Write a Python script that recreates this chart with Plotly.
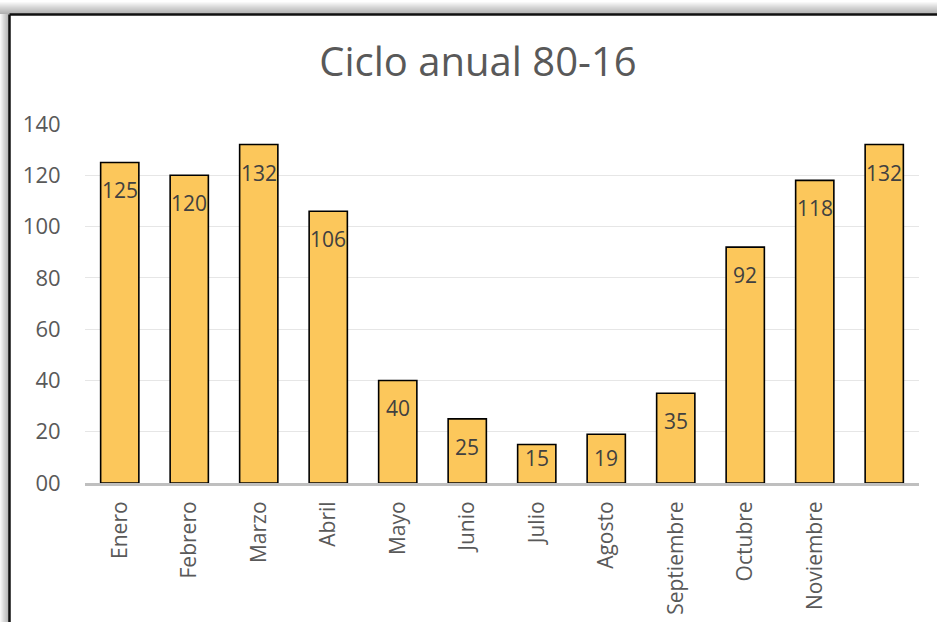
import plotly.graph_objects as go

# Monthly values of the annual cycle 1980-2016
months = ["Enero", "Febrero", "Marzo", "Abril", "Mayo", "Junio", "Julio",
          "Agosto", "Septiembre", "Octubre", "Noviembre", "Diciembre"]
month_ticks = ["Enero", "Febrero", "Marzo", "Abril", "Mayo", "Junio", "Julio",
               "Agosto", "Septiembre", "Octubre", "Noviembre", ""]
values = [125, 120, 132, 106, 40, 25, 15, 19, 35, 92, 118, 132]
y_ticks = [0, 20, 40, 60, 80, 100, 120, 140]
y_tick_text = ["00", "20", "40", "60", "80", "100", "120", "140"]

W, H = 937, 622
ML, MR, MT, MB = 85, 18, 124, 139
PW, PH = W - ML - MR, H - MT - MB
Y_MAX = 140
PX_PER_UNIT = PH / Y_MAX

FONT = "Open Sans"
TXT = "#404040"

fig = go.Figure()
fig.add_trace(go.Bar(
    x=months, y=values,
    marker=dict(color="#FCC75B", line=dict(color="#000000", width=1.6)),
    hoverinfo="x+y",
))

# value labels sit inside the top of each bar, kept clear of the baseline
annotations = []
for m, v in zip(months, values):
    y_lab = max(v - 28 / PX_PER_UNIT, 25 / PX_PER_UNIT)
    annotations.append(dict(
        x=m, y=y_lab, xref="x", yref="y", text=str(v), showarrow=False,
        yanchor="middle", xanchor="center",
        font=dict(family=FONT, size=21, color=TXT),
    ))


def px_x(px):
    return (px - ML) / PW


def px_y(py):
    return (H - MB - py) / PH


shapes = []
# soft shadow along the top and left edges of the chart frame
steps = 12
for i in range(steps):
    op = 0.028
    shapes.append(dict(type="rect", xref="paper", yref="paper", layer="below",
                       x0=px_x(0), x1=px_x(W),
                       y0=px_y(14), y1=px_y(14 - (i + 1)),
                       line=dict(width=0), fillcolor=f"rgba(0,0,0,{op})"))
    shapes.append(dict(type="rect", xref="paper", yref="paper", layer="below",
                       x0=px_x(9 - (i + 1) * 0.75), x1=px_x(9),
                       y0=px_y(H), y1=px_y(14),
                       line=dict(width=0), fillcolor=f"rgba(0,0,0,{op})"))
# frame border
shapes.append(dict(type="line", xref="paper", yref="paper",
                   x0=px_x(9.5), x1=px_x(W), y0=px_y(14.5), y1=px_y(14.5),
                   line=dict(color="#111111", width=2.5)))
shapes.append(dict(type="line", xref="paper", yref="paper",
                   x0=px_x(9.5), x1=px_x(9.5), y0=px_y(14.5), y1=px_y(H),
                   line=dict(color="#111111", width=2.5)))

fig.update_layout(
    width=W, height=H,
    margin=dict(l=ML, r=MR, t=MT, b=MB, pad=0, autoexpand=False),
    paper_bgcolor="#FFFFFF", plot_bgcolor="#FFFFFF",
    bargap=0.45,
    showlegend=False,
    title=dict(text="Ciclo anual 80-16", x=478 / W, xanchor="center",
               y=1 - 62 / H, yanchor="middle", yref="container",
               font=dict(family=FONT, size=40, color="#595959")),
    font=dict(family=FONT, color=TXT),
    xaxis=dict(
        tickvals=months, ticktext=month_ticks, tickangle=-90,
        tickfont=dict(family=FONT, size=21, color="#595959"),
        showline=True, linecolor="#BFBFBF", linewidth=3,
        ticks="outside", ticklen=7, tickcolor="rgba(0,0,0,0)",
        showgrid=False, fixedrange=True, automargin=False,
    ),
    yaxis=dict(
        range=[0, Y_MAX], tickvals=y_ticks, ticktext=y_tick_text,
        tickfont=dict(family=FONT, size=22, color="#595959"),
        showgrid=True, gridcolor="#E6E6E6", gridwidth=1.3,
        zeroline=False, showline=False,
        ticks="outside", ticklen=19, tickcolor="rgba(0,0,0,0)",
        fixedrange=True, automargin=False,
    ),
    annotations=annotations,
    shapes=shapes,
)

fig.write_html("out.html")
